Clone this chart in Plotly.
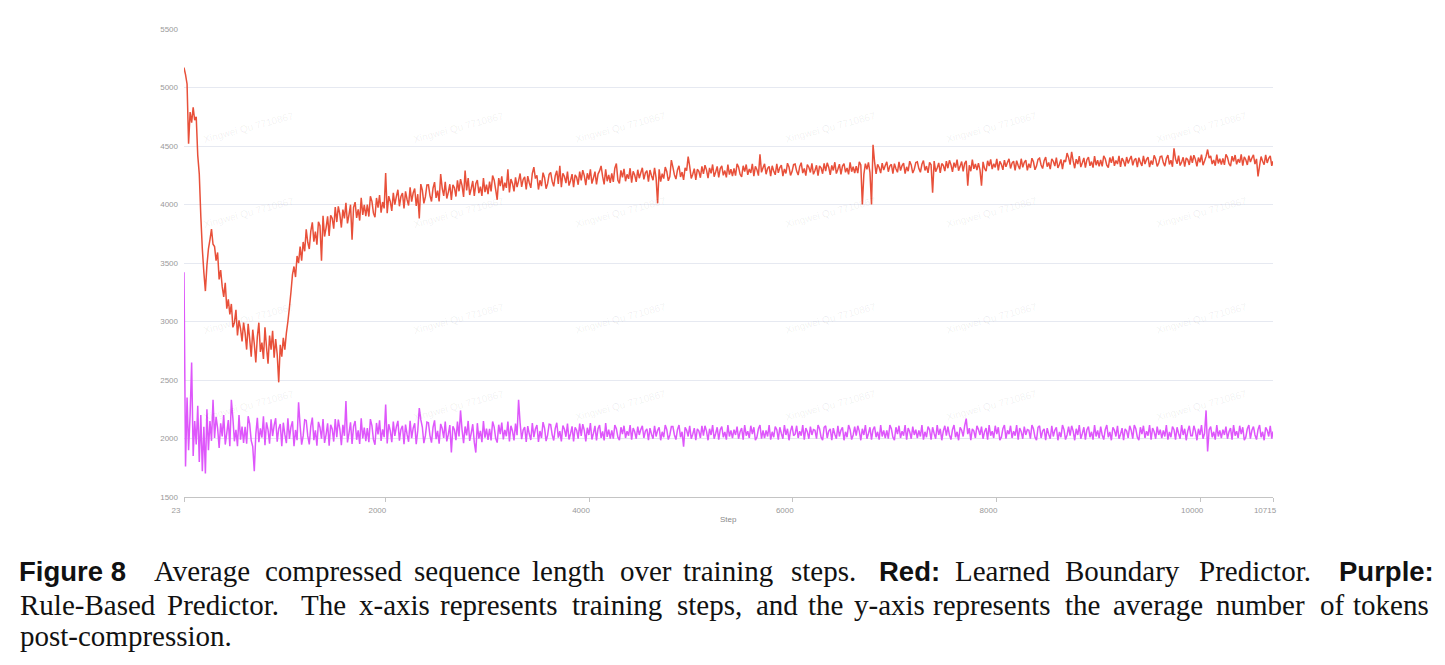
import plotly.graph_objects as go

# ---------------- data ----------------
steps = list(range(23, 10704, 15)) + [10715]

red_learned = [
    5170, 5110, 5030, 4520, 4790, 4700, 4830, 4720, 4750, 4420,
    4260, 3900, 3620, 3420, 3260, 3480, 3620, 3700, 3790, 3660,
    3640, 3520, 3590, 3360, 3440, 3300, 3210, 3330, 3110, 3190,
    3060, 3150, 2950, 2990, 3100, 2880, 3010, 2940, 2830, 2990,
    2900, 2760, 2980, 2850, 2700, 2930, 2810, 2650, 2870, 2990,
    2740, 2820, 2680, 2950, 2780, 2640, 2880, 2760, 2920, 2690,
    2850, 2720, 2480, 2800, 2700, 2860, 2760, 2900, 3000, 3120,
    3250, 3400, 3470, 3380, 3560, 3500, 3640, 3520, 3680, 3600,
    3788, 3677, 3620, 3773, 3848, 3682, 3768, 3657, 3853, 3819,
    3520, 3903, 3726, 3801, 3899, 3732, 3907, 3883, 3794, 3979,
    3850, 3984, 3918, 3803, 3957, 3881, 4015, 3839, 3914, 3998,
    3700, 3976, 4020, 3885, 3959, 3863, 4057, 3911, 3996, 3900,
    3999, 3897, 4071, 4027, 3926, 3891, 4056, 3973, 4081, 3931,
    4021, 3967, 4270, 3925, 4071, 4027, 3945, 4100, 3998, 4068,
    4126, 3985, 4068, 4098, 3966, 4112, 4043, 3991, 4147, 4024,
    4098, 4137, 3987, 4088, 3880, 4174, 4123, 4009, 4065, 4167,
    4168, 4076, 4026, 4139, 4191, 4057, 4118, 4026, 4260, 4140,
    4073, 4194, 4051, 4104, 4173, 4039, 4168, 4144, 4068, 4207,
    4113, 4217, 4161, 4065, 4290, 4121, 4225, 4081, 4137, 4201,
    4073, 4177, 4209, 4097, 4153, 4073, 4225, 4105, 4169, 4089,
    4195, 4112, 4247, 4210, 4127, 4040, 4225, 4157, 4240, 4119,
    4187, 4142, 4300, 4104, 4217, 4180, 4112, 4232, 4149, 4202,
    4265, 4150, 4214, 4236, 4128, 4243, 4186, 4142, 4265, 4320,
    4222, 4250, 4128, 4207, 4157, 4272, 4229, 4135, 4178, 4258,
    4274, 4197, 4155, 4246, 4288, 4176, 4330, 4148, 4267, 4239,
    4183, 4281, 4162, 4204, 4260, 4148, 4253, 4232, 4169, 4281,
    4206, 4294, 4247, 4165, 4267, 4213, 4301, 4179, 4226, 4281,
    4172, 4260, 4287, 4330, 4240, 4172, 4301, 4199, 4253, 4185,
    4265, 4193, 4310, 4350, 4206, 4180, 4291, 4232, 4304, 4199,
    4258, 4219, 4310, 4186, 4284, 4252, 4193, 4297, 4225, 4271,
    4314, 4215, 4270, 4289, 4196, 4295, 4246, 4208, 4314, 4227,
    4010, 4301, 4196, 4264, 4221, 4320, 4283, 4202, 4239, 4380,
    4319, 4253, 4217, 4295, 4331, 4235, 4277, 4211, 4313, 4289,
    4410, 4325, 4223, 4259, 4307, 4211, 4301, 4283, 4229, 4325,
    4261, 4336, 4296, 4226, 4313, 4267, 4342, 4238, 4278, 4325,
    4232, 4307, 4330, 4249, 4290, 4232, 4342, 4255, 4301, 4243,
    4309, 4247, 4348, 4320, 4258, 4236, 4331, 4281, 4342, 4253,
    4303, 4270, 4348, 4242, 4326, 4298, 4247, 4430, 4275, 4314,
    4348, 4259, 4309, 4326, 4243, 4331, 4287, 4254, 4348, 4270,
    4315, 4337, 4243, 4304, 4265, 4353, 4320, 4248, 4281, 4342,
    4346, 4285, 4252, 4324, 4357, 4269, 4308, 4247, 4341, 4319,
    4274, 4352, 4258, 4291, 4335, 4247, 4330, 4313, 4263, 4352,
    4285, 4356, 4318, 4253, 4334, 4291, 4361, 4264, 4302, 4345,
    4258, 4329, 4350, 4275, 4312, 4258, 4361, 4280, 4323, 4269,
    4327, 4268, 4365, 4338, 4000, 4257, 4349, 4300, 4360, 4273,
    4000, 4510, 4365, 4262, 4343, 4316, 4268, 4354, 4295, 4333,
    4365, 4280, 4328, 4344, 4264, 4349, 4306, 4275, 4365, 4290,
    4333, 4354, 4264, 4322, 4285, 4370, 4338, 4269, 4301, 4359,
    4365, 4307, 4275, 4344, 4376, 4291, 4328, 4270, 4360, 4339,
    4100, 4371, 4281, 4312, 4355, 4270, 4350, 4334, 4286, 4371,
    4310, 4378, 4341, 4279, 4357, 4315, 4383, 4289, 4326, 4367,
    4284, 4352, 4373, 4160, 4336, 4284, 4383, 4305, 4347, 4295,
    4354, 4296, 4160, 4364, 4307, 4286, 4374, 4328, 4385, 4302,
    4348, 4317, 4390, 4291, 4369, 4343, 4296, 4380, 4322, 4359,
    4391, 4308, 4354, 4370, 4292, 4375, 4334, 4302, 4391, 4318,
    4360, 4380, 4292, 4349, 4313, 4396, 4365, 4297, 4328, 4386,
    4396, 4338, 4307, 4375, 4406, 4323, 4359, 4302, 4390, 4370,
    4328, 4401, 4312, 4344, 4385, 4302, 4380, 4364, 4440, 4401,
    4341, 4450, 4372, 4310, 4388, 4346, 4414, 4320, 4357, 4398,
    4315, 4383, 4404, 4331, 4367, 4315, 4414, 4336, 4378, 4326,
    4381, 4326, 4416, 4391, 4336, 4316, 4401, 4356, 4411, 4331,
    4376, 4346, 4416, 4321, 4396, 4371, 4326, 4406, 4351, 4386,
    4415, 4335, 4380, 4395, 4320, 4400, 4360, 4330, 4415, 4345,
    4385, 4405, 4320, 4375, 4340, 4420, 4390, 4325, 4355, 4410,
    4413, 4358, 4328, 4393, 4423, 4343, 4378, 4323, 4480, 4388,
    4348, 4418, 4333, 4363, 4403, 4323, 4398, 4383, 4338, 4418,
    4356, 4421, 4386, 4326, 4401, 4361, 4426, 4336, 4371, 4411,
    4470, 4396, 4416, 4346, 4381, 4331, 4426, 4351, 4391, 4341,
    4393, 4338, 4428, 4403, 4348, 4328, 4413, 4368, 4423, 4343,
    4388, 4358, 4428, 4333, 4408, 4383, 4338, 4418, 4363, 4398,
    4425, 4345, 4390, 4240, 4330, 4410, 4370, 4340, 4425, 4355,
    4395, 4415, 4330,
    4370,
]

purple_rule = [
    3420, 1760, 2350, 1900, 2200, 2650, 1850, 2150, 1950, 2280,
    1800, 2200, 1720, 2100, 1700, 2250, 1900, 2150, 1980, 2330,
    2004, 2186, 2088, 1920, 2130, 2018, 2200, 1948, 2046, 2158,
    1934, 2330, 2172, 1976, 2074, 1934, 2200, 1990, 2102, 1962,
    2099, 1956, 2190, 2125, 1982, 1930, 1720, 2034, 2177, 1969,
    2086, 2008, 2190, 1943, 2138, 2073, 1956, 2164, 2021, 2112,
    2173, 1972, 2085, 2123, 1935, 2135, 2035, 1960, 2173, 1997,
    2098, 2148, 1935, 2073, 1985, 2310, 2110, 1947, 2022, 2160,
    2154, 2022, 1950, 2106, 2178, 1986, 2070, 1938, 2142, 2094,
    1998, 2166, 1962, 2034, 2130, 1938, 2118, 2082, 1974, 2166,
    2012, 2162, 2081, 1943, 2116, 2023, 2320, 1966, 2046, 2139,
    1954, 2104, 2150, 1989, 2070, 1954, 2173, 2000, 2093, 1977,
    2089, 1968, 2166, 2111, 1990, 1946, 2133, 2034, 2155, 1979,
    2078, 2012, 2290, 1957, 2122, 2067, 1968, 2144, 2023, 2100,
    2151, 1982, 2077, 2109, 1951, 2119, 2035, 1972, 2151, 2003,
    2088, 2130, 1951, 2067, 2260, 2161, 2098, 1961, 2024, 2140,
    2135, 2025, 1965, 2095, 2155, 1995, 2065, 1955, 2125, 2085,
    2005, 2145, 1975, 2035, 2115, 1880, 2105, 2075, 1985, 2145,
    2017, 2240, 2074, 1960, 2103, 2026, 2150, 1979, 2045, 2122,
    1969, 1880, 2131, 1998, 2065, 1969, 2150, 2007, 2084, 1988,
    2082, 1983, 2145, 2100, 2001, 1965, 2118, 2037, 2136, 1992,
    2073, 2019, 2145, 1974, 2109, 2064, 1983, 2127, 2028, 2330,
    2132, 1995, 2072, 2098, 1970, 2106, 2038, 1987, 2132, 2012,
    2081, 2115, 1970, 2064, 2004, 2140, 2089, 1978, 2029, 2123,
    2119, 2031, 1983, 2087, 2135, 2007, 2063, 1975, 2111, 2079,
    2015, 2127, 1991, 2039, 2103, 1975, 2095, 2071, 1999, 2127,
    2022, 2123, 2069, 1975, 2092, 2030, 2131, 1991, 2045, 2108,
    1983, 2084, 2115, 2006, 2061, 1983, 2131, 2014, 2076, 1998,
    2070, 1998, 2115, 2083, 2011, 1985, 2096, 2037, 2109, 2004,
    2063, 2024, 2115, 1991, 2089, 2057, 1998, 2102, 2030, 2076,
    2109, 2004, 2063, 2083, 1985, 2089, 2037, 1998, 2109, 2017,
    2070, 2096, 1985, 2057, 2011, 2115, 2076, 1991, 2030, 2102,
    2102, 2030, 1991, 2076, 2115, 2011, 2057, 1930, 2096, 2070,
    2017, 2109, 1998, 2037, 2089, 1985, 2083, 2063, 2004, 2109,
    2024, 2109, 2063, 1985, 2083, 2030, 2115, 1998, 2043, 2096,
    1991, 2076, 2102, 2011, 2057, 1991, 2115, 2017, 2070, 2004,
    2076, 2030, 2102, 1998, 2057, 2089, 1991, 2115, 2024, 2063,
    2004, 2109, 2037, 2096, 1985, 2011, 2083, 2115, 1998, 2070,
    2004, 2070, 2017, 2115, 1991, 2057, 2011, 2102, 2076, 1991,
    2096, 2043, 1998, 2115, 2030, 2083, 1985, 2063, 2109, 2024,
    2037, 2109, 2004, 2063, 2024, 2115, 1991, 2089, 2057, 1998,
    2102, 2030, 2076, 2070, 1998, 2115, 2083, 2011, 1985, 2096,
    2109, 2004, 2063, 2083, 1985, 2089, 2037, 1998, 2109, 2017,
    2070, 2096, 1985, 2057, 2011, 2115, 2076, 1991, 2030, 2102,
    2024, 2109, 2063, 1985, 2083, 2030, 2115, 1998, 2043, 2096,
    1991, 2076, 2102, 2011, 2057, 1991, 2115, 2017, 2070, 2004,
    2070, 1998, 2115, 2083, 2011, 1985, 2096, 2037, 2109, 2004,
    2063, 2024, 2115, 1991, 2089, 2057, 1998, 2102, 2030, 2076,
    2004, 2070, 2017, 2115, 1991, 2057, 2011, 2102, 2076, 1991,
    2096, 2043, 1998, 2115, 2030, 2083, 1985, 2063, 2109, 2024,
    2102, 2030, 1991, 2076, 2115, 2011, 2057, 1985, 2096, 2070,
    2017, 2109, 2170, 2037, 2089, 1985, 2083, 2063, 2004, 2109,
    2076, 2030, 2102, 1998, 2057, 2089, 1991, 2115, 2024, 2063,
    2004, 2109, 2037, 2096, 1985, 2011, 2083, 2115, 1998, 2070,
    2037, 2109, 2004, 2063, 2024, 2115, 1991, 2089, 2057, 1998,
    2102, 2030, 2076, 2070, 1998, 2115, 2083, 2011, 1985, 2096,
    2109, 2004, 2063, 2083, 1985, 2089, 2037, 1998, 2109, 2017,
    2070, 2096, 1985, 2057, 2011, 2115, 2076, 1991, 2030, 2102,
    2024, 2109, 2063, 1985, 2083, 2030, 2115, 1998, 2043, 2096,
    1991, 2076, 2102, 2011, 2057, 1991, 2115, 2017, 2070, 2004,
    2102, 2030, 1991, 2076, 2115, 2011, 2057, 1985, 2096, 2070,
    2017, 2109, 1998, 2037, 2089, 1985, 2083, 2063, 2004, 2109,
    2070, 1998, 2115, 2083, 2011, 1985, 2096, 2037, 2109, 2004,
    2063, 2024, 2115, 1991, 2089, 2057, 1998, 2102, 2030, 2076,
    2004, 2070, 2017, 2115, 1991, 2057, 2011, 2102, 2076, 1991,
    2096, 2043, 1998, 2115, 2030, 2083, 1985, 2063, 2109, 2024,
    2024, 2109, 2063, 1985, 2083, 2030, 2115, 1998, 2043, 2240,
    1890, 2076, 2102, 2011, 2057, 1991, 2115, 2017, 2070, 2004,
    2076, 2030, 2102, 1998, 2057, 2089, 1991, 2115, 2024, 2063,
    2004, 2109, 2037, 2096, 1985, 2011, 2083, 2115, 1998, 2070,
    2102, 2030, 1991, 2076, 2115, 2011, 2057, 1985, 2096, 2070,
    2017, 2109, 1998,
    2060,
]

x_tick_vals = [23, 2000, 4000, 6000, 8000, 10000, 10715]
x_tick_text = ["23", "2000", "4000", "6000", "8000", "10000", "10715"]
y_tick_vals = [1500, 2000, 2500, 3000, 3500, 4000, 4500, 5000, 5500]

# ---------------- figure ----------------
W, H = 1445, 665
L, R, T, B = 184, 1273, 29, 497

fig = go.Figure()
fig.add_trace(go.Scatter(x=steps[:len(purple_rule)], y=purple_rule, mode="lines",
                         line=dict(color="#de57fb", width=1.5, simplify=False),
                         showlegend=False))
fig.add_trace(go.Scatter(x=steps[:len(red_learned)], y=red_learned, mode="lines",
                         line=dict(color="#e8503a", width=1.5, simplify=False),
                         showlegend=False))


def px(xp):
    return (xp - L) / (R - L)


def py(yp):
    return (B - yp) / (B - T)


ann = []
# watermark (very faint)
for wy in [108, 212, 318, 425]:
    for wx in [200, 410, 620, 830, 1040, 1250]:
        ann.append(dict(x=px(wx), y=py(wy), xref="paper", yref="paper",
                        text="Xingwei Qu 7710867", showarrow=False, textangle=-15,
                        font=dict(family="Arial, Liberation Sans", size=10,
                                  color="rgba(0,0,0,0.07)")))

# axis title
ann.append(dict(x=px(728), y=py(519), xref="paper", yref="paper", text="Step",
                showarrow=False, xanchor="center", yanchor="middle",
                font=dict(family="Liberation Sans, Arial", size=8, color="#8a8a8a")))

serif = "Liberation Serif, Times New Roman, serif"
sans_b = "Liberation Sans, Arial, sans-serif"
line1 = [("<b>Figure 8</b>", 17, sans_b, 27.5), ("Average", 152, serif, 29),
         ("compressed", 263, serif, 29), ("sequence", 412, serif, 29),
         ("length", 530, serif, 29), ("over", 618, serif, 29),
         ("training", 681, serif, 29), ("steps.", 789, serif, 29),
         ("<b>Red:</b>", 877, sans_b, 27.5), ("Learned", 953, serif, 29),
         ("Boundary", 1063, serif, 29), ("Predictor.", 1197, serif, 29),
         ("<b>Purple:</b>", 1337, sans_b, 27.5)]
line2 = [("Rule-Based", 18, serif, 29), ("Predictor.", 165, serif, 29),
         ("The", 299, serif, 29), ("x-axis", 357, serif, 29),
         ("represents", 438, serif, 29), ("training", 570, serif, 29),
         ("steps,", 675, serif, 29), ("and", 754, serif, 29),
         ("the", 806, serif, 29), ("y-axis", 852, serif, 29),
         ("represents", 931, serif, 29), ("the", 1063, serif, 29),
         ("average", 1111, serif, 29), ("number", 1214, serif, 29),
         ("of", 1318, serif, 29), ("tokens", 1351, serif, 29)]
line3 = [("post-compression.", 18, serif, 29)]

for words, yc in [(line1, 571), (line2, 605), (line3, 636)]:
    for txt, xs, fam, sz in words:
        ann.append(dict(x=px(xs), y=py(yc), xref="paper", yref="paper", text=txt,
                        showarrow=False, xanchor="left", yanchor="middle",
                        font=dict(family=fam, size=sz, color="#111111")))

fig.update_layout(
    width=W, height=H,
    margin=dict(l=L, r=W - R, t=T, b=H - B, pad=0),
    paper_bgcolor="white", plot_bgcolor="white",
    annotations=ann,
    xaxis=dict(range=[23, 10715], tickvals=x_tick_vals, ticktext=x_tick_text,
               showgrid=False, zeroline=False, showline=True, linecolor="#c4c4c4",
               linewidth=1, ticks="outside", ticklen=4, tickcolor="#c4c4c4",
               tickfont=dict(family="Liberation Sans, Arial", size=8, color="#9a9a9a"),
               ticklabelshift=-8, ticklabelstandoff=1),
    yaxis=dict(range=[1500, 5500], tickvals=y_tick_vals, showgrid=True,
               gridcolor="#e6e9f1", gridwidth=1, zeroline=False, showline=False,
               ticks="", tickfont=dict(family="Liberation Sans, Arial", size=8, color="#9a9a9a"),
               ticklabelstandoff=5),
)

fig.write_html("out.html")
